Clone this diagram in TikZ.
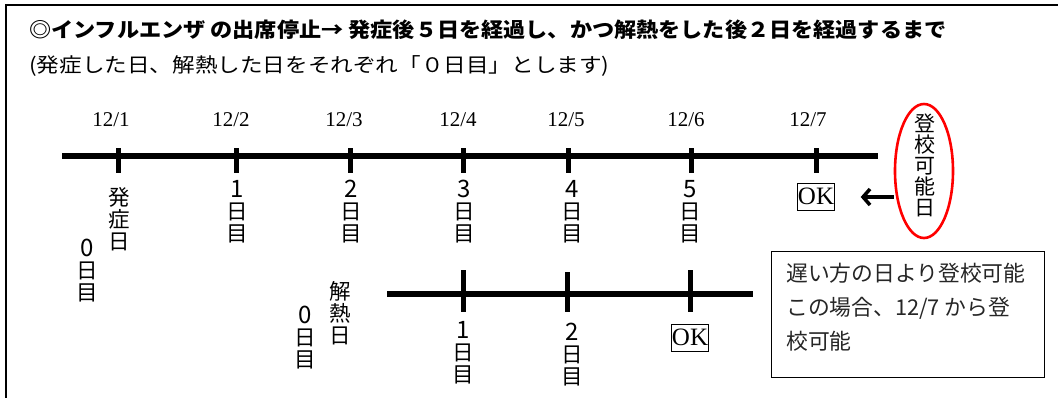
\documentclass[tikz,border=0pt]{standalone}
\usepackage{fontspec}
\setmainfont{Liberation Serif}
\newfontfamily\jp{Noto Sans CJK JP}
\newcommand\dg[1]{{\fontsize{24}{22}\selectfont #1}}
\usetikzlibrary{arrows.meta,shapes.geometric}
\tikzset{
  axis/.style={line width=6pt},
  tick/.style={line width=5pt},
  datelbl/.style={font=\fontsize{21}{21}\selectfont, inner sep=0pt},
  vt/.style={font=\jp\fontsize{21.5}{22}\selectfont, align=center, inner sep=0pt},
  okbox/.style={draw, line width=0.8pt, font=\fontsize{25}{25}\selectfont, inner xsep=0.8pt, inner ysep=4pt, text height=17pt, text depth=2pt},
}
\begin{document}
\begin{tikzpicture}[x=1pt,y=-1pt]
\useasboundingbox (0,0) rectangle (1058,397);
% frame
\draw[line width=2pt] (6,400) -- (6,5) -- (1060,5);
% header
\node[anchor=west, inner sep=0pt, xscale=1.08, font=\jp\bfseries\fontsize{20.5}{21}\selectfont] (h1) at (29,30) {◎インフルエンザ の出席停止→ 発症後５日を経過し、かつ解熱をした後２日を経過するまで};
\node[anchor=west, inner sep=0pt, xscale=1.13, font=\jp\fontsize{20}{20}\selectfont] (h2) at (29,66) {(発症した日、解熱した日をそれぞれ「０日目」とします)};
% main timeline
\coordinate (a0) at (62,156);
\coordinate (a1) at (878,156);
\draw[axis] (a0) -- (a1);
\foreach \x in {118,236,350,463,568,691,816}{
  \draw[tick] (\x,148) -- (\x,173);
}
\node[datelbl] (d1) at (111,120) {12/1};
\node[datelbl] (d2) at (231,120) {12/2};
\node[datelbl] (d3) at (344,120) {12/3};
\node[datelbl] (d4) at (458,120) {12/4};
\node[datelbl] (d5) at (566,120) {12/5};
\node[datelbl] (d6) at (686,120) {12/6};
\node[datelbl] (d7) at (808,120) {12/7};
% labels under main timeline
\node[vt] (onset) at (119,219) {発\\症\\日};
\node[vt] (z1) at (87,271) {\dg{0}\\日\\目};
\node[vt] (n1) at (237,212) {\dg{1}\\日\\目};
\node[vt] (n2) at (351,212) {\dg{2}\\日\\目};
\node[vt] (n3) at (464,212) {\dg{3}\\日\\目};
\node[vt] (n4) at (572,212) {\dg{4}\\日\\目};
\node[vt] (n5) at (690,212) {\dg{5}\\日\\目};
\node[okbox] (ok1) at (816,197) {OK};
% ellipse
\node[ellipse, draw=red, line width=2.6pt, minimum width=58pt, minimum height=134pt, inner sep=0pt] (ell) at (924,171) {};
\node[vt, font=\jp\fontsize{21}{21}\selectfont] (go) at (925,165) {登\\校\\可\\能\\日};
\draw[line width=3.5pt, -{Straight Barb[length=7pt,width=16pt,line width=3.5pt]}] (ell.west |- ok1) -- ++(-33,0) coordinate (tipend);
% second timeline
\coordinate (b0) at (387,294);
\coordinate (b1) at (753,294);
\draw[axis] (b0) -- (b1);
\draw[tick] (463,270) -- (463,312);
\draw[tick] (567,272) -- (567,312);
\draw[tick] (690,270) -- (690,312);
\node[vt] (fever) at (340,313) {解\\熱\\日};
\node[vt] (z2) at (305,338) {\dg{0}\\日\\目};
\node[vt] (m1) at (463,353) {\dg{1}\\日\\目};
\node[vt] (m2) at (572,355) {\dg{2}\\日\\目};
\node[okbox] (ok2) at (690,338) {OK};
% callout
\node[draw, line width=1pt, minimum width=273pt, minimum height=126pt, inner sep=0pt] (box) at (907.5,314) {};
\node[anchor=north west, align=left, inner sep=0pt, text=black!85, font=\jp\fontsize{21.8}{34}\selectfont] (boxtext) at (786,263) {遅い方の日より登校可能\\この場合、12/7 から登\\校可能};
\end{tikzpicture}
\end{document}
